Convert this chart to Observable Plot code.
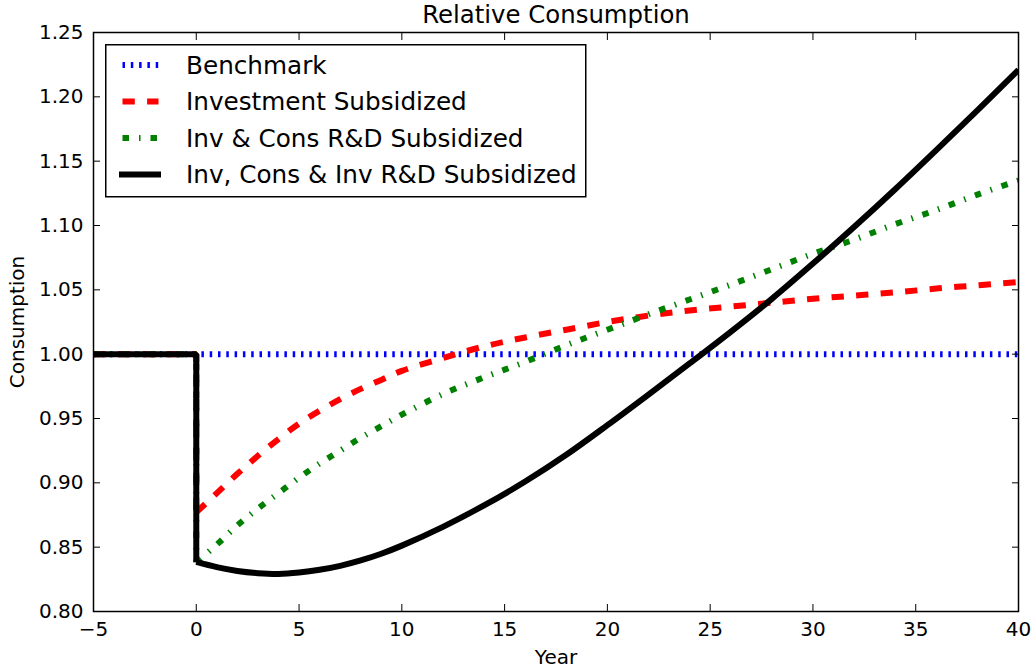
<!DOCTYPE html>
<html>
<head>
<meta charset="utf-8">
<script src="https://cdn.jsdelivr.net/npm/d3@7"></script>
<script src="https://cdn.jsdelivr.net/npm/@observablehq/plot@0.6"></script>
<style>
  html, body { margin: 0; padding: 0; background: #fff; }
  #wrap { position: relative; width: 1036px; height: 672px; font-family: "DejaVu Sans", sans-serif; }
</style>
</head>
<body>
<div id="wrap"></div>
<script>
// ---------- data ----------
const title = "Relative Consumption";
const xLabel = "Year";
const yLabel = "Consumption";
const xTicks = [-5, 0, 5, 10, 15, 20, 25, 30, 35, 40];
const yTicks = [0.80, 0.85, 0.90, 0.95, 1.00, 1.05, 1.10, 1.15, 1.20, 1.25];
const seriesNames = [
  "Benchmark",
  "Investment Subsidized",
  "Inv & Cons R&D Subsidized",
  "Inv, Cons & Inv R&D Subsidized"
];
const preYears = [-5, 0];
const preLevel = 1.00;
const benchmarkYears = [-5, 40];
const benchmarkValues = [1.00, 1.00];
const years = [0, 1, 2, 3, 4, 5, 6, 7, 8, 9, 10, 12, 14, 16, 18, 20, 22, 24, 26, 28, 30, 32, 34, 36, 38, 40];
const investmentSubsidized = [0.877, 0.892, 0.907, 0.921, 0.934, 0.946, 0.956, 0.965, 0.973, 0.980, 0.987,
  0.997, 1.006, 1.013, 1.019, 1.025, 1.030, 1.034, 1.037, 1.040, 1.043, 1.0455, 1.048, 1.051, 1.0535, 1.056];
const invConsRDSubsidized = [0.838, 0.852, 0.867, 0.880, 0.892, 0.904, 0.915, 0.925, 0.935, 0.944, 0.953,
  0.969, 0.982, 0.994, 1.007, 1.019, 1.031, 1.0425, 1.054, 1.066, 1.078, 1.089, 1.101, 1.112, 1.124, 1.135];
const invConsInvRDSubsidized = [0.8385, 0.8345, 0.8315, 0.8298, 0.8292, 0.8303, 0.8324, 0.8355, 0.8397, 0.8449, 0.8512,
  0.8658, 0.8824, 0.901, 0.9218, 0.9448, 0.9686, 0.9928, 1.0174, 1.043, 1.0704, 1.0988, 1.1282, 1.1586, 1.1895, 1.221];

// ---------- styles ----------
const lineStyles = [
  { stroke: "#0000ff", dash: "2.5,5.8" },
  { stroke: "#ff0000", dash: "12.3,12.3" },
  { stroke: "#008000", dash: "6.5,10,1.5,10" },
  { stroke: "#000000", dash: null }
];
const LW = 6;
const FONT = '"DejaVu Sans", sans-serif';

// ---------- build tables ----------
const benchRows = benchmarkYears.map((t, i) => ({ t, v: benchmarkValues[i] }));
const postSeries = [investmentSubsidized, invConsRDSubsidized, invConsInvRDSubsidized];
const preRows = postSeries.map(vals => [
  ...preYears.map(t => ({ t, v: preLevel })),
  { t: years[0], v: vals[0] }
]);
const postRows = postSeries.map(vals => years.map((t, i) => ({ t, v: vals[i] })));

const lineMarks = [
  Plot.line(benchRows, { x: "t", y: "v", stroke: lineStyles[0].stroke, strokeWidth: LW,
    strokeDasharray: lineStyles[0].dash, strokeLinecap: "butt", clip: true })
];
postSeries.forEach((_, k) => {
  const s = lineStyles[k + 1];
  lineMarks.push(Plot.line(preRows[k], { x: "t", y: "v", stroke: s.stroke, strokeWidth: LW,
    strokeDasharray: s.dash, strokeLinecap: "butt", strokeLinejoin: "miter", clip: true }));
  lineMarks.push(Plot.line(postRows[k], { x: "t", y: "v", stroke: s.stroke, strokeWidth: LW,
    strokeDasharray: s.dash, strokeLinecap: "butt", strokeLinejoin: "round", curve: "catmull-rom", clip: true }));
});

const chart = Plot.plot({
  width: 1036,
  height: 672,
  marginTop: 32,
  marginRight: 18,
  marginBottom: 61,
  marginLeft: 93,
  style: { fontFamily: FONT, fontSize: "20px", color: "black", background: "white", overflow: "visible" },
  x: { domain: [-5, 40] },
  y: { domain: [0.80, 1.25] },
  marks: [
    ...lineMarks,
    Plot.frame({ stroke: "black", strokeWidth: 1.5 }),
    Plot.axisX(xTicks, { anchor: "bottom", tickSize: -7, tickPadding: 17, label: null, fontSize: 20 }),
    Plot.axisX(xTicks, { anchor: "top", tickSize: -7, tickFormat: () => "", label: null }),
    Plot.axisY(yTicks, { anchor: "left", tickSize: -7, tickPadding: 17, tickFormat: d3.format(".2f"), label: null, fontSize: 20 }),
    Plot.axisY(yTicks, { anchor: "right", tickSize: -7, tickFormat: () => "", label: null }),
    Plot.text([title], { text: d => d, frameAnchor: "top", lineAnchor: "middle", textAnchor: "middle", dy: -17, fontSize: 24.4, fill: "black" }),
    Plot.text([xLabel], { text: d => d, frameAnchor: "bottom", lineAnchor: "middle", textAnchor: "middle", dy: 46, fontSize: 20, fill: "black" }),
    Plot.text([yLabel], { text: d => d, frameAnchor: "left", lineAnchor: "middle", textAnchor: "middle", rotate: -90, dx: -76, fontSize: 20, fill: "black" })
  ]
});

const wrap = document.getElementById("wrap");
wrap.appendChild(chart);

// ---------- legend ----------
const legW = 481, legH = 153;
const legend = d3.create("svg")
  .attr("id", "legend")
  .attr("width", legW + 2)
  .attr("height", legH + 2)
  .style("position", "absolute").style("left", "105px").style("top", "44px");
legend.append("rect")
  .attr("x", 0.75).attr("y", 0.75).attr("width", legW - 1).attr("height", legH - 1)
  .attr("fill", "white").attr("stroke", "black").attr("stroke-width", 1.5);
const rowY = [21, 57.5, 94, 130.5];
seriesNames.forEach((name, i) => {
  const s = lineStyles[i];
  const isSolid = !s.dash;
  legend.append("line")
    .attr("x1", isSolid ? 17 : 17.5).attr("x2", isSolid ? 53 : 53.5)
    .attr("y1", rowY[i]).attr("y2", rowY[i])
    .attr("stroke", s.stroke).attr("stroke-width", LW)
    .attr("stroke-dasharray", s.dash)
    .attr("stroke-linecap", isSolid ? "square" : "butt");
  legend.append("text")
    .attr("x", 81).attr("y", rowY[i])
    .attr("dy", "0.36em")
    .attr("font-family", FONT).attr("font-size", 24.7).attr("fill", "black")
    .text(name);
});
wrap.appendChild(legend.node());
</script>
</body>
</html>
